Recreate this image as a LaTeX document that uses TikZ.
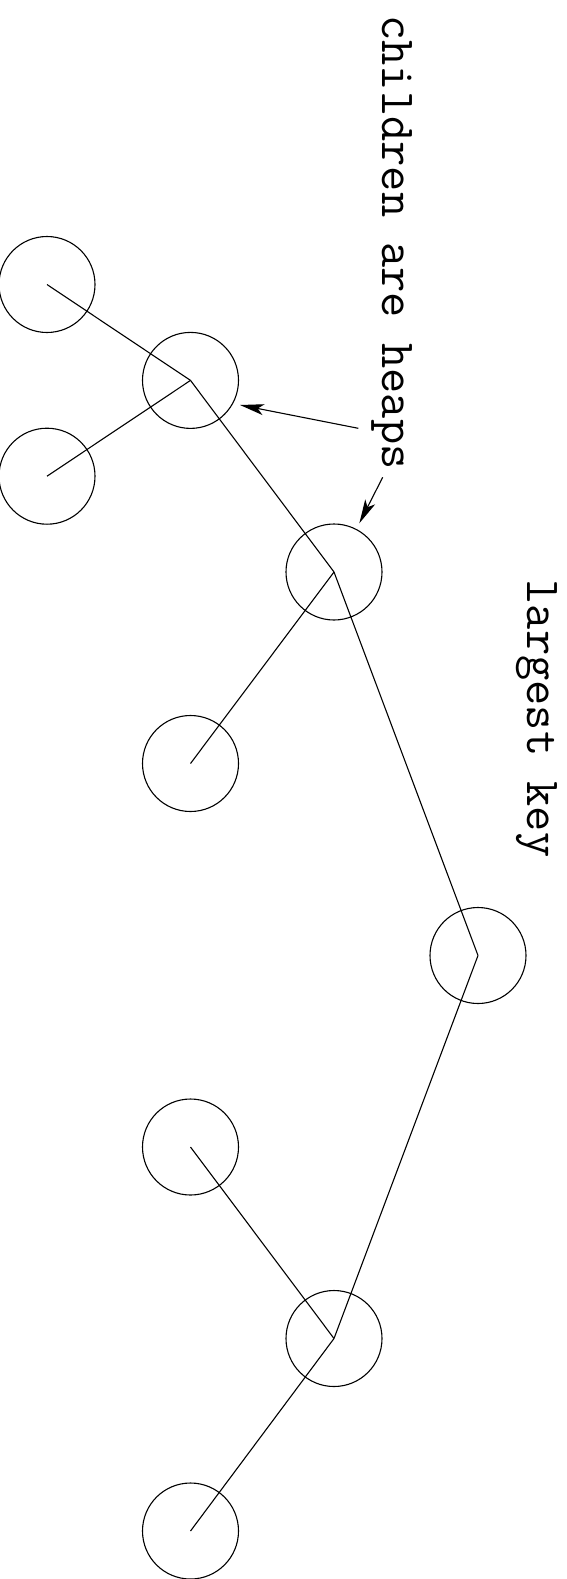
\documentclass[tikz,border=0pt]{standalone}
\usetikzlibrary{arrows.meta}
\tikzset{
  heap/.style={draw, circle, minimum size=96pt, inner sep=0pt, line width=1.1pt},
  edge/.style={line width=1.1pt},
  pointer/.style={line width=1.1pt, -{Stealth[length=24pt,width=11pt,inset=6pt]}},
  label/.style={rotate=-90, anchor=base, inner sep=0pt, font=\ttfamily\fontsize{49}{49}\selectfont}
}
\begin{document}
\begin{tikzpicture}[x=1pt,y=-1pt]
\useasboundingbox (0,0) rectangle (566,1579);
\node[heap] (a) at (47,284.5) {};
\node[heap] (b) at (47,476.2) {};
\node[heap] (c) at (190.5,380.4) {};
\node[heap] (d) at (334,572) {};
\node[heap] (e) at (190.5,763.5) {};
\node[heap] (f) at (478,955.5) {};
\node[heap] (g) at (190.5,1147) {};
\node[heap] (h) at (334,1338.5) {};
\node[heap] (i) at (190.5,1531) {};
\draw[edge] (a.center) -- (c.center);
\draw[edge] (b.center) -- (c.center);
\draw[edge] (c.center) -- (d.center);
\draw[edge] (e.center) -- (d.center);
\draw[edge] (d.center) -- (f.center);
\draw[edge] (f.center) -- (h.center);
\draw[edge] (g.center) -- (h.center);
\draw[edge] (i.center) -- (h.center);
\node[label] (t1) at (382,242.5) {children are heaps};
\node[label] (t2) at (527,718.5) {largest key};
\coordinate (s1) at (358.3,428.3);
\coordinate (e1) at (240,405);
\coordinate (s2) at (382.7,477.3);
\coordinate (e2) at (359.3,523.3);
\draw[pointer] (s1) -- (e1);
\draw[pointer] (s2) -- (e2);
\end{tikzpicture}
\end{document}
